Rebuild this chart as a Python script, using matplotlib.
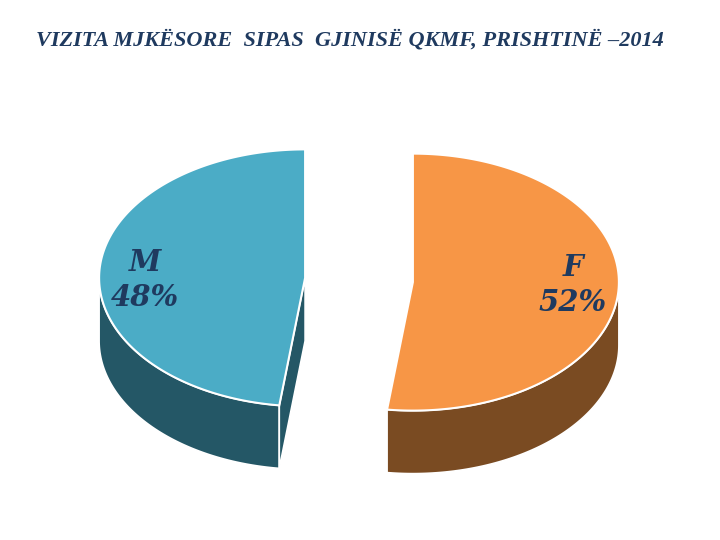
import numpy as np
import matplotlib
matplotlib.use('Agg')
import matplotlib.pyplot as plt
from matplotlib.patches import Polygon

# data
labels = ['M', 'F']
values = [48, 52]
top_colors = ['#4BACC6', '#F79646']
side_colors = ['#245766', '#7A4B22']
title = 'VIZITA MJKËSORE  SIPAS  GJINISË QKMF, PRISHTINË \u20132014'

# geometry of the fake 3d pie (pixels)
cx, cy = 359, 280
a, b = 206, 128.5
depth = 63
explode = 54

fig = plt.figure(figsize=(7.2, 5.4), dpi=100)
ax = fig.add_axes([0, 0, 1, 1])
ax.set_xlim(0, 720)
ax.set_ylim(540, 0)
ax.axis('off')


def pt(ox, oy, t):
    return ox + a * np.cos(t), oy - b * np.sin(t)


fracs = np.array(values) / sum(values)
# F starts at the top and runs clockwise, M takes the rest
spans = {}
start = np.pi / 2
t_end_F = start - 2 * np.pi * fracs[1]
spans['F'] = (t_end_F, start)
spans['M'] = (start, t_end_F + 2 * np.pi)

label_pos = {'M': (145, 280), 'F': (573, 285)}

for i, lab in enumerate(labels):
    t0, t1 = spans[lab]
    tm = (t0 + t1) / 2
    ox = cx + explode * np.cos(tm)
    oy = cy - explode * np.sin(tm) * b / a

    # outer side, only the front half is visible
    lo = max(t0, np.pi) if lab == 'M' else t0
    hi = t1 if lab == 'M' else min(t1, 0)
    ts = np.linspace(lo, hi, 120)
    xs, ys = pt(ox, oy, ts)
    side = np.concatenate([np.c_[xs, ys], np.c_[xs[::-1], ys[::-1] + depth]])
    ax.add_patch(Polygon(side, closed=True, fc=side_colors[i], ec='white', lw=1.2))

    # cut face toward the viewer
    if lab == 'M':
        ex, ey = pt(ox, oy, t1)
        face = [(ox, oy), (ex, ey), (ex, ey + depth), (ox, oy + depth)]
        ax.add_patch(Polygon(face, closed=True, fc=side_colors[i], ec='white', lw=1.2))

    # top surface
    ts = np.linspace(t0, t1, 200)
    xs, ys = pt(ox, oy, ts)
    top = np.vstack([[ox, oy], np.c_[xs, ys]])
    ax.add_patch(Polygon(top, closed=True, fc=top_colors[i], ec='white', lw=1.5))

    lx, ly = label_pos[lab]
    ax.text(lx, ly, f'{lab}\n{values[i]}%', ha='center', va='center',
            fontsize=21, color='#1F3A5F', family='DejaVu Serif',
            style='italic', weight='bold', linespacing=1.25)

ax.text(350, 40, title, ha='center', va='center', fontsize=16,
        color='#1F3A5F', family='Liberation Serif', style='italic',
        weight='bold')

fig.savefig('out.png', dpi=100)
